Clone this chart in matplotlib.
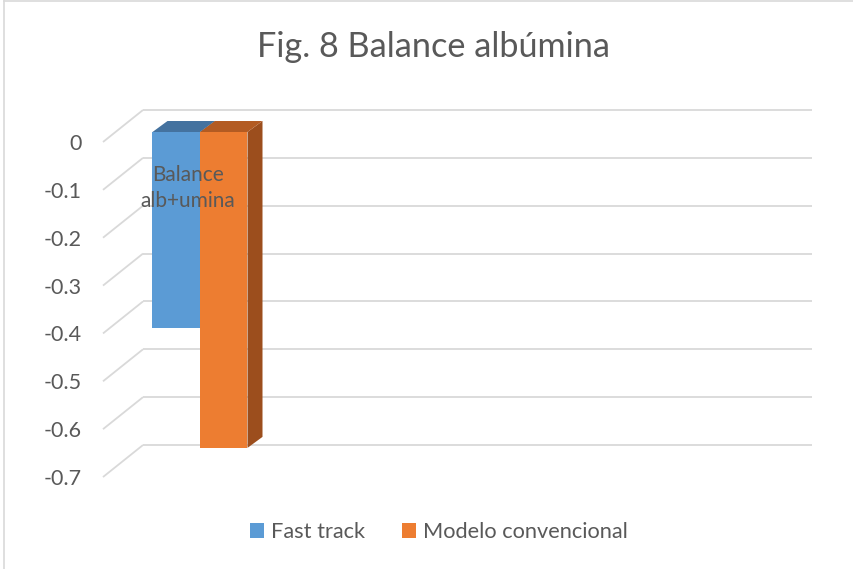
import matplotlib
matplotlib.use("Agg")
import matplotlib.pyplot as plt
from matplotlib.patches import Polygon, Patch
from matplotlib.lines import Line2D

plt.rcParams["font.family"] = ["Lato", "DejaVu Sans"]

# data
categories = ["Balance\nalb+umina"]
series_names = ["Fast track", "Modelo convencional"]
fast_track = [-0.41]
modelo_convencional = [-0.66]
tick_values = [0, -0.1, -0.2, -0.3, -0.4, -0.5, -0.6, -0.7]
tick_labels = ["0", "-0.1", "-0.2", "-0.3", "-0.4", "-0.5", "-0.6", "-0.7"]

front_colors = ["#5B9BD5", "#ED7D31"]
top_colors = ["#44729F", "#B35B22"]
side_colors = ["#3F6C96", "#9C4E1D"]
grid_color = "#D9D9D9"
text_color = "#595959"

W, H = 854, 569
fig = plt.figure(figsize=(W / 100, H / 100), dpi=100)

# plot area in pixels (x0, x1, y0, y1 from top-left)
x0, x1, y0, y1 = 100, 815, 100, 485
ax = fig.add_axes([x0 / W, 1 - y1 / H, (x1 - x0) / W, (y1 - y0) / H])

# one pixel in data units
PX = 0.01
PY = 1 / 478.6
zero_row = 132  # pixel row of value 0 on the bar plane
ax.set_xlim((x0 - 200) * PX, (x1 - 200) * PX)
ax.set_ylim(-(y1 - zero_row) * PY, (zero_row - y0) * PY)

# depth offsets relative to the bar plane
back_dx, back_dy = 27.5 * PX, 22 * PY
front_dx, front_dy = -12.5 * PX, -10 * PY
bar_dx, bar_dy = 15 * PX, 11 * PY
wall_left, wall_right = -0.845, 5.845

# gridlines: back wall plus the diagonal floor/side edge
for v in tick_values:
    ax.plot([wall_left + back_dx, wall_right + back_dx], [v + back_dy, v + back_dy],
            color=grid_color, lw=1.3, zorder=1, solid_capstyle="butt")
    ax.plot([wall_left + front_dx, wall_left + back_dx], [v + front_dy, v + back_dy],
            color=grid_color, lw=1.3, zorder=1, solid_capstyle="butt")

# 3D columns
width = 0.475
cat_x = 0.0
series = [fast_track, modelo_convencional]
offsets = [-width / 2, width / 2]
for i, (vals, off) in enumerate(zip(series, offsets)):
    for j, v in enumerate(vals):
        xc = cat_x + j + off
        xl, xr = xc - width / 2, xc + width / 2
        z = 3 + 2 * i
        ax.bar(xc, v, width, color=front_colors[i], zorder=z, linewidth=0)
        top = Polygon([(xl, 0), (xr, 0), (xr + bar_dx, bar_dy), (xl + bar_dx, bar_dy)],
                      closed=True, facecolor=top_colors[i], edgecolor="none", zorder=z)
        side = Polygon([(xr, 0), (xr, v), (xr + bar_dx, v + bar_dy), (xr + bar_dx, bar_dy)],
                       closed=True, facecolor=side_colors[i], edgecolor="none", zorder=z - 0.5)
        ax.add_patch(top)
        ax.add_patch(side)

# category label
for j, cat in enumerate(categories):
    ax.text(cat_x + j - 0.12, -0.117, cat, ha="center", va="center",
            fontsize=15, color=text_color, linespacing=1.4, zorder=10)

# value axis labels at the front edge
ax.set_yticks([v + front_dy for v in tick_values])
ax.set_yticklabels(tick_labels, fontsize=15.5, color=text_color)
ax.tick_params(axis="y", length=0, pad=13)
ax.set_xticks([])
for s in ax.spines.values():
    s.set_visible(False)
ax.patch.set_alpha(0)

fig.suptitle("Fig. 8 Balance albúmina", x=434 / W, y=1 - 47 / H, va="center",
             fontsize=24.7, color=text_color)

handles = [Patch(facecolor=c, edgecolor="none") for c in front_colors]
fig.legend(handles, series_names, loc="center", bbox_to_anchor=(439 / W, 1 - 532 / H),
           ncol=2, frameon=False, fontsize=15.7, labelcolor=text_color,
           handlelength=0.65, handleheight=0.65, handletextpad=0.3, columnspacing=1.7)

# chart border (left and top edges)
fig.add_artist(Line2D([4.5 / W, 4.5 / W], [0, 1 - 1 / H], color="#D9D9D9", lw=1.2))
fig.add_artist(Line2D([4.5 / W, 1], [1 - 1 / H, 1 - 1 / H], color="#D9D9D9", lw=1.2))

fig.savefig("out.png", dpi=100)
